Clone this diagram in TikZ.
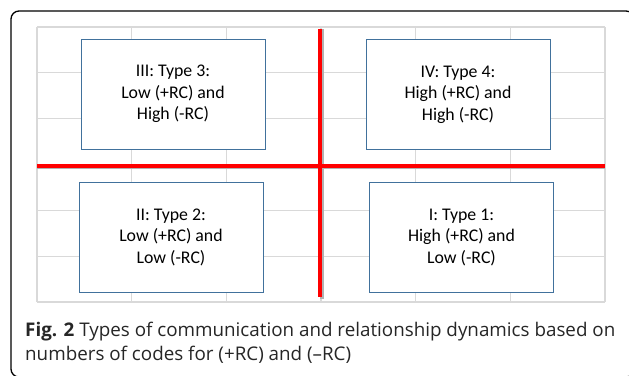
\documentclass[tikz,border=0pt]{standalone}
\usepackage{fontspec}
\setmainfont{Carlito}
\newfontfamily\capfont{Open Sans}
\definecolor{gridgray}{HTML}{D9D9D9}
\definecolor{boxblue}{HTML}{41719C}
\definecolor{redline}{HTML}{FF0000}
\begin{document}
\begin{tikzpicture}[x=1pt,y=-1pt,
  quad/.style={draw=boxblue,line width=1pt,fill=white,minimum width=184pt,minimum height=110pt,
    align=center,font=\fontsize{17.8}{21.5}\selectfont,inner sep=0pt},
  axisline/.style={draw=redline,line width=4pt},
  axisshadow/.style={draw=black!30,line width=4pt},
  gridline/.style={draw=gridgray,line width=1.2pt},
  captext/.style={anchor=base west,inner sep=0pt,font=\capfont\fontsize{18.8}{22}\selectfont,text=black!85}]
\useasboundingbox (0,0) rectangle (629,375);
\fill[white] (0,0) rectangle (629,375);
\begin{scope}
\clip (0,0) rectangle (629,375);
\draw[line width=1.3pt,rounded corners=8pt] (11,11) rectangle (634,377);
\end{scope}
% grid
\foreach \i in {0,...,6} {
  \draw[gridline] (37+94.67*\i,27) -- (37+94.67*\i,302);
  \draw[gridline] (37,27+45.83*\i) -- (605,27+45.83*\i);
}
% axes with shadow
\coordinate (hL) at (37,165.5);
\coordinate (hR) at (605,165.5);
\coordinate (vT) at (320,29);
\coordinate (vB) at (320,297);
\draw[axisshadow] ([shift={(0,1.5)}]hL) -- ([shift={(0,1.5)}]hR);
\draw[axisshadow] ([shift={(1.5,0)}]vT) -- ([shift={(1.5,1.5)}]vB);
\draw[axisline] (hL) -- (hR);
\draw[axisline] (vT) -- (vB);
% boxes
\node[quad] (q3) at (173,94) {III: Type 3:\\Low (+RC) and\\High (-RC)};
\node[quad] (q4) at (458,94.5) {IV: Type 4:\\High (+RC) and\\High (-RC)};
\node[quad] (q2) at (171,237) {II: Type 2:\\Low (+RC) and\\Low (-RC)};
\node[quad] (q1) at (461.5,237.5) {I: Type 1:\\High (+RC) and\\Low (-RC)};
% caption
\node[captext] (cap1) at (25,336) {\textbf{Fig. 2} Types of communication and relationship dynamics based on};
\node[captext] (cap2) at (25,360) {numbers of codes for (+RC) and (\textendash RC)};
\end{tikzpicture}
\end{document}
